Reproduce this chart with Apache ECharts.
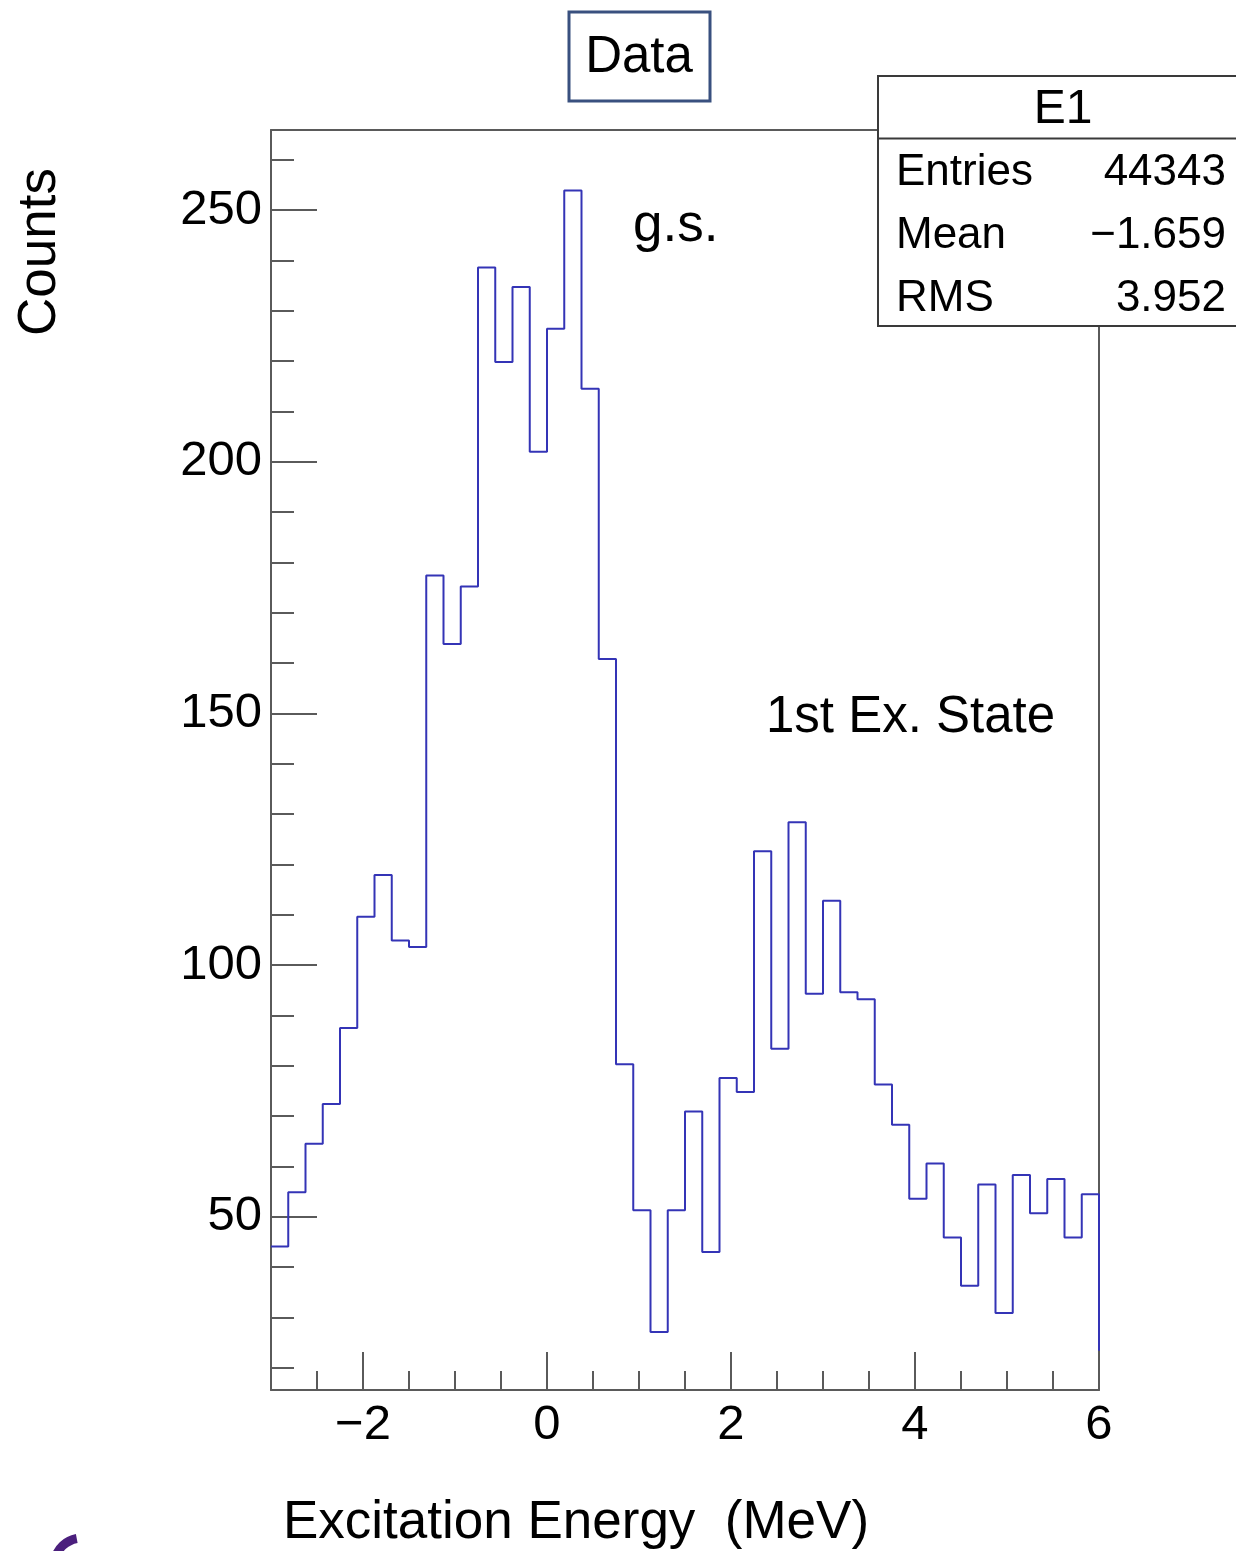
<!DOCTYPE html>
<html>
<head>
<meta charset="utf-8">
<title>E1 excitation energy</title>
<script src="https://cdn.jsdelivr.net/npm/echarts@6/dist/echarts.min.js"></script>
<style>
    html, body { margin: 0; padding: 0; background: #fff; }
    #chart { width: 1236px; height: 1551px; }
</style>
</head>
<body>
<div id="chart"></div>
<script>
    // histogram binning (MeV)
    var xLow = -3;
    var binWidth = 0.1875;
    // counts per bin
    var counts = [44.1, 54.9, 64.5, 72.4, 87.5, 109.6, 117.9, 104.9, 103.6,
        177.4, 163.8, 175.2, 238.6, 219.8, 234.7, 202.0, 226.4, 253.9, 214.5, 160.8,
        80.3, 51.3, 27.1, 51.3, 70.9, 43.0, 77.6, 74.8,
        122.6, 83.4, 128.4, 94.3, 112.8, 94.6, 93.2, 76.3, 68.3,
        53.6, 60.6, 45.9, 36.3, 56.4, 30.9, 58.3, 50.7, 57.5, 45.9, 54.5];
    // next bin after the frame, gives the last drop at x = 6
    var overflow = 23.4;

    // axis ticks
    var xMajor = [-2, 0, 2, 4, 6];
    var xMinor = [-2.5, -1.5, -1, -0.5, 0.5, 1, 1.5, 2.5, 3, 3.5, 4.5, 5, 5.5];
    var yMajor = [50, 100, 150, 200, 250];
    var yMinor = [20, 30, 40, 60, 70, 80, 90, 110, 120, 130, 140, 160, 170, 180, 190,
        210, 220, 230, 240, 260];

    // stats box
    var statTitle = "E1";
    var statNames = ["Entries", "Mean", "RMS"];
    var statValues = ["44343", "\u22121.659", "3.952"];

    var FONT = "'Liberation Sans', Arial, sans-serif";
    var axisColor = "#5a5a5a";
    var histColor = "#3434b6";

    var points = [];
    for (var i = 0; i < counts.length; i++) {
        points.push([xLow + i * binWidth, counts[i]]);
    }
    points.push([xLow + counts.length * binWidth, overflow]);

    function minus(v) {
        return v < 0 ? "\u2212" + Math.abs(v) : String(v);
    }

    function txt(x, y, text, size, align, extra) {
        var el = {
            type: "text",
            x: x,
            y: y,
            z: 110,
            style: {
                text: text,
                x: 0,
                y: 0,
                font: size + "px " + FONT,
                fill: "#000",
                align: align,
                textAlign: align,
                verticalAlign: "middle",
                textVerticalAlign: "middle"
            }
        };
        for (var k in extra) el[k] = extra[k];
        return el;
    }

    var graphics = [
        // "Data" label box
        { type: "rect", z: 100, shape: { x: 569, y: 12, width: 141, height: 89 },
          style: { fill: "#fff", stroke: "#39507f", lineWidth: 3 } },
        txt(639, 58, "Data", 51, "center"),
        // stats box
        { type: "rect", z: 100, shape: { x: 878, y: 76, width: 370, height: 250 },
          style: { fill: "#fff", stroke: "#3a3a3a", lineWidth: 2 } },
        { type: "line", z: 101, shape: { x1: 878, y1: 138.5, x2: 1240, y2: 138.5 },
          style: { stroke: "#3a3a3a", lineWidth: 2 } },
        txt(1063, 110, statTitle, 48, "center"),
        // annotations
        txt(633, 226, "g.s.", 53, "left"),
        txt(766, 718, "1st Ex. State", 51, "left"),
        txt(40, 252, "Counts", 53, "center", { rotation: Math.PI / 2 }),
        txt(576, 1523, "Excitation Energy  (MeV)", 53, "center"),
        // cut-off logo at the bottom left
        { type: "arc", z: 100, shape: { cx: 82, cy: 1566, r: 28, startAngle: Math.PI * 1.08, endAngle: Math.PI * 1.44 },
          style: { stroke: "#4b1f7d", lineWidth: 9, fill: null } }
    ];
    for (var j = 0; j < statNames.length; j++) {
        var ry = 173 + j * 63;
        graphics.push(txt(896, ry, statNames[j], 44, "left"));
        graphics.push(txt(1226, ry, statValues[j], 44, "right"));
    }

    var chart = echarts.init(document.getElementById("chart"));
    var option = {
        animation: false,
        backgroundColor: "#fff",
        grid: { left: 271, right: 137, top: 130, bottom: 161 },
        xAxis: [{
            type: "value", min: -3, max: 6, position: "bottom",
            axisLine: { show: true, onZero: false, lineStyle: { color: axisColor, width: 2 } },
            axisTick: { show: true, inside: true, length: 38, customValues: xMajor,
                lineStyle: { color: axisColor, width: 2 } },
            axisLabel: { customValues: xMajor, formatter: minus, margin: 11,
                fontFamily: FONT, fontSize: 49, color: "#000" },
            splitLine: { show: false }
        }, {
            // minor ticks
            type: "value", min: -3, max: 6, position: "bottom",
            axisLine: { show: false, onZero: false },
            axisTick: { show: true, inside: true, length: 19, customValues: xMinor,
                lineStyle: { color: axisColor, width: 2 } },
            axisLabel: { show: false },
            splitLine: { show: false }
        }, {
            type: "value", min: -3, max: 6, position: "top",
            axisLine: { show: true, onZero: false, lineStyle: { color: axisColor, width: 2 } },
            axisTick: { show: false },
            axisLabel: { show: false },
            splitLine: { show: false }
        }],
        yAxis: [{
            type: "value", min: 15.6, max: 265.9, position: "left",
            axisLine: { show: true, onZero: false, lineStyle: { color: axisColor, width: 2 } },
            axisTick: { show: true, inside: true, length: 46, customValues: yMajor,
                lineStyle: { color: axisColor, width: 2 } },
            axisLabel: { customValues: yMajor, margin: 9,
                fontFamily: FONT, fontSize: 49, color: "#000",
                padding: [6, 0, 0, 0] },
            splitLine: { show: false }
        }, {
            // minor ticks
            type: "value", min: 15.6, max: 265.9, position: "left",
            axisLine: { show: false, onZero: false },
            axisTick: { show: true, inside: true, length: 23, customValues: yMinor,
                lineStyle: { color: axisColor, width: 2 } },
            axisLabel: { show: false },
            splitLine: { show: false }
        }, {
            type: "value", min: 15.6, max: 265.9, position: "right",
            axisLine: { show: true, onZero: false, lineStyle: { color: axisColor, width: 2 } },
            axisTick: { show: false },
            axisLabel: { show: false },
            splitLine: { show: false }
        }],
        series: [{
            name: "E1",
            type: "line",
            step: "end",
            xAxisIndex: 0,
            yAxisIndex: 0,
            data: points,
            showSymbol: false,
            symbol: "none",
            clip: true,
            lineStyle: { color: histColor, width: 2 },
            z: 5
        }],
        graphic: graphics
    };
    chart.setOption(option);
</script>
</body>
</html>
